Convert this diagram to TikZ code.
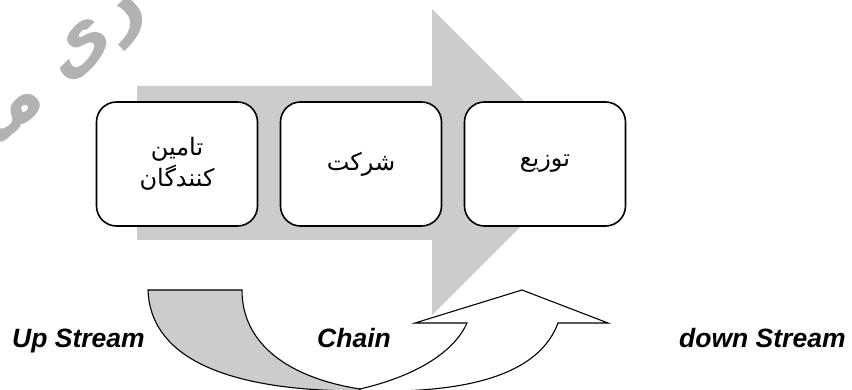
\documentclass[tikz,border=0pt]{standalone}
\usepackage{fontspec}
\setmainfont{Liberation Sans}
\newfontfamily\fa[Script=Arabic]{DejaVu Sans}
\TeXXeTstate=1
\definecolor{arrowgray}{RGB}{204,204,204}
\definecolor{wmgray}{RGB}{178,178,178}
\begin{document}
\begin{tikzpicture}[x=1pt,y=-1pt,
  stagebox/.style={draw=black, line width=1.6pt, rounded corners=20pt, fill=white,
    minimum width=161pt, minimum height=124pt, inner sep=0pt},
  fatxt/.style={font=\fa\fontsize{24}{31}\selectfont, align=center, inner sep=0pt},
  lbl/.style={font=\fontsize{26.5}{30}\selectfont\bfseries\itshape, inner sep=0pt, anchor=base west},
  band/.style={draw=black, line width=1.1pt, line join=miter}]
\useasboundingbox (0,0) rectangle (852,390);
\fill[white] (0,0) rectangle (852,390);
% watermark
\begin{scope}
\clip (0,0) rectangle (852,390);
\node[rotate=44, text=wmgray, font=\fa\bfseries\fontsize{74}{74}\selectfont, inner sep=0pt]
  (wm) at (58,80) {\beginR ری مه\endR};
\end{scope}
% big gray arrow
\fill[arrowgray] (137,86) -- (432,86) -- (432,9) -- (585,162) -- (432,315) -- (432,240) -- (137,240) -- cycle;
% stages
\node[stagebox] (b1) at (177,164) {};
\node[stagebox] (b2) at (361,164) {};
\node[stagebox] (b3) at (545,164) {};
\node[fatxt] (t1) at (b1) {\beginR تامین\endR\\\beginR کنندگان\endR};
\node[fatxt] (t2) at (b2) {\beginR شرکت\endR};
\node[fatxt] (t3) at (b3) {\beginR توزیع\endR};
% curved band
\filldraw[band, fill=arrowgray] (148,290) -- (242,290) .. controls (242,345) and (290,378) .. (360,389)
  -- (360,391) .. controls (215,391) and (150,352) .. (148,290) -- cycle;
\filldraw[band, fill=white] (360,389) .. controls (420,375) and (455,350) .. (467,323)
  -- (415,323) -- (522,290) -- (608,323) -- (558,323)
  .. controls (535,385) and (440,393) .. (360,391) -- cycle;
% labels
\node[lbl] (up) at (12,347) {Up Stream};
\node[lbl] (ch) at (317,347) {Chain};
\node[lbl] (dn) at (679,347) {down Stream};
\end{tikzpicture}
\end{document}
